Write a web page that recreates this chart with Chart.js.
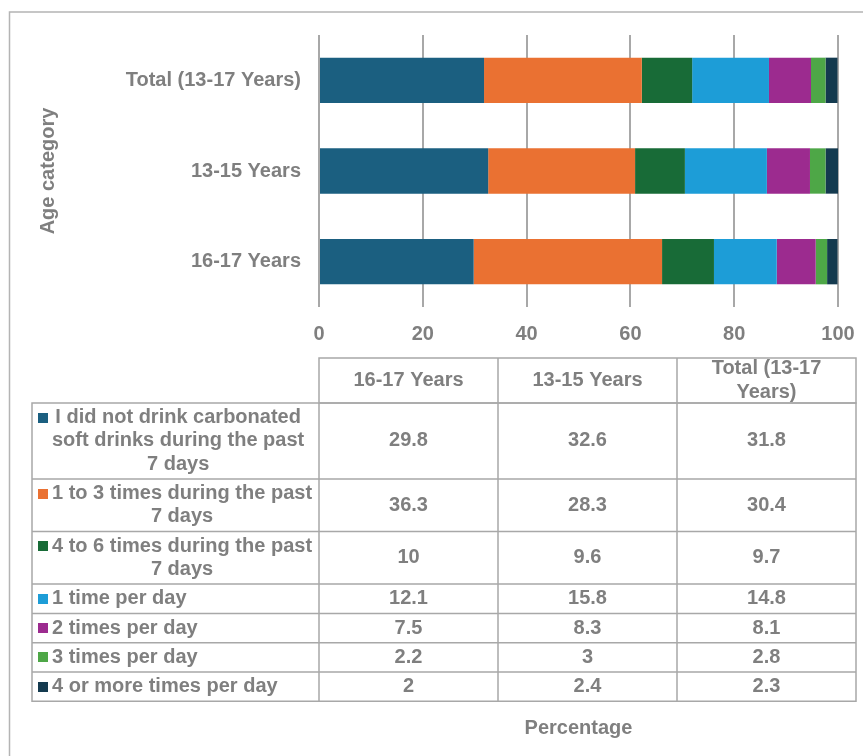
<!DOCTYPE html>
<html>
<head>
<meta charset="utf-8">
<title>Carbonated soft drink consumption by age category</title>
<script src="https://cdn.jsdelivr.net/npm/chart.js@4/dist/chart.umd.min.js"></script>
<style>
  html, body { margin: 0; padding: 0; background: #ffffff; }
  #c { display: block; }
</style>
</head>
<body>
<canvas id="c" width="863" height="756"></canvas>
<script>
// Age categories (first one sits at the bottom of the bar stack)
const categories = ['16-17 Years', '13-15 Years', 'Total (13-17 Years)'];

// Frequency of carbonated soft drink consumption (percent of students)
const seriesNames = [
  'I did not drink carbonated soft drinks during the past 7 days',
  '1 to 3 times during the past 7 days',
  '4 to 6 times during the past 7 days',
  '1 time per day',
  '2 times per day',
  '3 times per day',
  '4 or more times per day'
];
const noneLastWeek    = [29.8, 32.6, 31.8];
const oneToThreeWeek  = [36.3, 28.3, 30.4];
const fourToSixWeek   = [10,   9.6,  9.7];
const oncePerDay      = [12.1, 15.8, 14.8];
const twicePerDay     = [7.5,  8.3,  8.1];
const threePerDay     = [2.2,  3,    2.8];
const fourPlusPerDay  = [2,    2.4,  2.3];
const seriesValues = [noneLastWeek, oneToThreeWeek, fourToSixWeek, oncePerDay, twicePerDay, threePerDay, fourPlusPerDay];

const seriesColors = ['#1b5f80', '#ea7132', '#186b37', '#1d9dd7', '#9c2b8f', '#4ea747', '#143a4f'];

const xTicks = [0, 20, 40, 60, 80, 100];

const TEXT_COLOR = '#7f7f7f';
const LINE_COLOR = '#a8a8a8';
const FONT_FAMILY = '"Liberation Sans", Arial, sans-serif';
const BOLD_FONT = 'bold 20px ' + FONT_FAMILY;

// Greedy word wrap against a pixel width
function wrapText(ctx, text, maxWidth) {
  const words = text.split(' ');
  const lines = [];
  let line = '';
  for (const w of words) {
    const test = line ? line + ' ' + w : w;
    if (line && ctx.measureText(test).width > maxWidth) {
      lines.push(line);
      line = w;
    } else {
      line = test;
    }
  }
  if (line) lines.push(line);
  return lines;
}

// Outer frame around the whole figure
const framePlugin = {
  id: 'frame',
  beforeDraw(chart) {
    const ctx = chart.ctx;
    ctx.save();
    ctx.fillStyle = '#ffffff';
    ctx.fillRect(0, 0, chart.width, chart.height);
    ctx.strokeStyle = '#b4b4b4';
    ctx.lineWidth = 1.5;
    ctx.strokeRect(9.5, 12, chart.width + 20, chart.height + 20);
    ctx.restore();
  }
};

// Data table drawn under the value axis: one column per category, one row per series
const tablePlugin = {
  id: 'dataTable',
  afterDraw(chart) {
    const ctx = chart.ctx;
    const left = 32;
    const dataLeft = chart.chartArea.left;
    const colW = 179;
    const right = dataLeft + colW * categories.length;
    const top = 358;
    const headH = 45;
    const lineH = 23.3;
    const keyTextX = 52;
    const keyTextMax = dataLeft - keyTextX - 3;

    ctx.save();
    ctx.font = BOLD_FONT;
    ctx.fillStyle = TEXT_COLOR;
    ctx.textBaseline = 'middle';
    ctx.strokeStyle = LINE_COLOR;
    ctx.lineWidth = 1.5;

    // Header row with category names
    ctx.textAlign = 'center';
    categories.forEach((cat, i) => {
      const cx = dataLeft + colW * i + colW / 2;
      const lines = wrapText(ctx, cat, colW - 8);
      const mid = top + headH / 2;
      lines.forEach((ln, k) => {
        ctx.fillText(ln, cx, mid + (k - (lines.length - 1) / 2) * 24);
      });
    });
    ctx.beginPath();
    ctx.rect(dataLeft, top, right - dataLeft, headH);
    for (let i = 1; i < categories.length; i++) {
      ctx.moveTo(dataLeft + colW * i, top);
      ctx.lineTo(dataLeft + colW * i, top + headH);
    }
    ctx.stroke();

    // Body rows
    let y = top + headH;
    const rowEdges = [y];
    seriesNames.forEach((name, s) => {
      const lines = wrapText(ctx, name, keyTextMax);
      const h = lines.length * lineH + 6;
      const mid = y + h / 2;
      const firstY = mid - (lines.length - 1) / 2 * lineH;

      // colour key
      ctx.fillStyle = seriesColors[s];
      ctx.fillRect(38, Math.round(firstY - 5), 10, 10);

      // series name: block left-aligned after the key, lines centred within it
      ctx.fillStyle = TEXT_COLOR;
      const blockW = Math.max(...lines.map(l => ctx.measureText(l).width));
      ctx.textAlign = 'center';
      lines.forEach((ln, k) => {
        ctx.fillText(ln, keyTextX + blockW / 2, firstY + k * lineH);
      });

      // values
      seriesValues[s].forEach((v, i) => {
        ctx.fillText(String(v), dataLeft + colW * i + colW / 2, mid);
      });

      y += h;
      rowEdges.push(y);
    });

    ctx.beginPath();
    ctx.rect(left, rowEdges[0], right - left, y - rowEdges[0]);
    for (let r = 1; r < rowEdges.length - 1; r++) {
      ctx.moveTo(left, rowEdges[r]);
      ctx.lineTo(right, rowEdges[r]);
    }
    for (let i = 0; i < categories.length; i++) {
      ctx.moveTo(dataLeft + colW * i, rowEdges[0]);
      ctx.lineTo(dataLeft + colW * i, y);
    }
    ctx.stroke();
    ctx.restore();
  }
};

const datasets = seriesNames.map((name, s) => ({
  label: name,
  data: seriesValues[s],
  backgroundColor: seriesColors[s],
  borderWidth: 0,
  categoryPercentage: 1,
  barPercentage: 0.5
}));

new Chart(document.getElementById('c'), {
  type: 'bar',
  data: { labels: categories, datasets },
  plugins: [framePlugin, tablePlugin],
  options: {
    indexAxis: 'y',
    responsive: false,
    animation: false,
    devicePixelRatio: 1,
    layout: { padding: { top: 35, right: 25, left: 0, bottom: 0 } },
    plugins: {
      legend: { display: false },
      tooltip: { enabled: false }
    },
    scales: {
      x: {
        stacked: true,
        min: 0,
        max: 100,
        afterBuildTicks(scale) { scale.ticks = xTicks.map(v => ({ value: v })); },
        grid: { color: LINE_COLOR, lineWidth: 2, drawTicks: false },
        border: { display: false },
        ticks: {
          color: TEXT_COLOR,
          padding: 15,
          font: { family: FONT_FAMILY, size: 20, weight: 'bold' }
        },
        title: {
          display: true,
          text: 'Percentage',
          color: TEXT_COLOR,
          padding: { top: 0, bottom: 16 },
          font: { family: FONT_FAMILY, size: 20, weight: 'bold' }
        },
        afterFit(scale) {
          scale.height = 449;
          scale.paddingLeft = 0;
          scale.paddingRight = 0;
        }
      },
      y: {
        stacked: true,
        reverse: true,
        grid: { display: false, drawTicks: false },
        border: { display: false },
        ticks: {
          color: TEXT_COLOR,
          padding: 18,
          font: { family: FONT_FAMILY, size: 20, weight: 'bold' }
        },
        title: {
          display: true,
          text: 'Age category',
          color: TEXT_COLOR,
          padding: { top: 36, bottom: 0 },
          font: { family: FONT_FAMILY, size: 20, weight: 'bold' }
        },
        afterFit(scale) { scale.width = 319; }
      }
    }
  }
});
</script>
</body>
</html>
